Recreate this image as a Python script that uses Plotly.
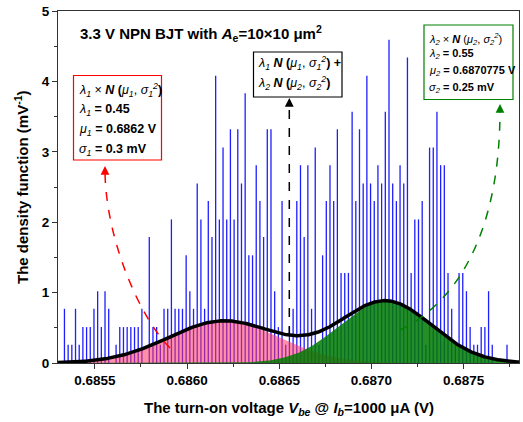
import numpy as np
import plotly.graph_objects as go

# ---------------- data ----------------
# histogram of the turn-on voltage (density, mV^-1), bins of 0.02 mV
bin_start = 0.685335   # V, centre of first bin
bin_step = 0.00002     # V
density = [
    0.77, 0.26, 0.26, 0.77, 0.26, 0.51, 0.51, 0.51, 0.77, 1.02,
    0.51, 1.02, 0.77, 0.00, 0.26, 0.51, 0.51, 0.51, 0.51, 0.51,
    0.51, 0.77, 0.00, 1.79, 0.51, 0.51, 0.26, 0.77, 0.77, 2.04,
    0.77, 0.77, 0.77, 1.53, 1.02, 0.77, 2.55, 2.04, 0.77, 2.30,
    1.79, 4.08, 2.04, 3.06, 2.04, 3.32, 2.04, 3.32, 2.55, 3.83,
    1.53, 1.53, 2.81, 2.30, 1.79, 3.32, 3.32, 1.02, 0.51, 2.30,
    0.26, 0.51, 0.77, 2.30, 2.81, 1.79, 2.81, 0.77, 3.06, 0.26,
    1.53, 2.30, 2.81, 2.30, 3.32, 1.28, 1.28, 1.28, 3.57, 2.30,
    3.32, 2.55, 4.08, 2.55, 2.30, 2.81, 2.55, 3.57, 4.59, 2.55,
    2.30, 2.81, 2.55, 4.34, 1.28, 2.04, 2.04, 2.30, 0.26, 3.06,
    3.06, 3.57, 2.81, 2.81, 1.28, 0.77, 0.26, 1.28, 1.28, 1.02,
    0.51, 0.26, 0.26, 0.51, 0.51, 1.02, 0.26, 0.00, 0.00, 0.00,
    0.26,
]

# fitted two-component Gaussian mixture (values printed on the chart)
lam1, mu1, sig1 = 0.45, 0.6862, 0.3e-3       # V
lam2, mu2, sig2 = 0.55, 0.6870775, 0.25e-3   # V

x_range = [0.6853, 0.6878]
y_range = [0, 5]
x_ticks = [0.6855, 0.6860, 0.6865, 0.6870, 0.6875]
x_tick_text = ["0.6855", "0.6860", "0.6865", "0.6870", "0.6875"]
y_ticks = [0, 1, 2, 3, 4, 5]

# ---------------- derived ----------------
centers = bin_start + bin_step * np.arange(len(density))
bx, by = [], []
for xc, h in zip(centers, density):
    if h > 0:
        bx += [xc, xc, None]
        by += [0, h, None]

xs = np.linspace(x_range[0], x_range[1], 800)
def comp(lam, mu, sig):
    s = sig * 1e3
    z = (xs - mu) * 1e3 / s
    return lam / (s * np.sqrt(2 * np.pi)) * np.exp(-0.5 * z * z)
c1 = comp(lam1, mu1, sig1)
c2 = comp(lam2, mu2, sig2)
mix = c1 + c2

FONT = "Liberation Sans, Arial, sans-serif"

fig = go.Figure()
fig.add_trace(go.Scatter(x=bx, y=by, mode="lines", line=dict(width=1.3, color="rgb(30,30,255)"),
                         hoverinfo="skip", connectgaps=False))
fig.add_trace(go.Scatter(x=xs, y=c1, mode="lines", line=dict(width=0, color="rgba(0,0,0,0)"),
                         fill="tozeroy", fillcolor="rgba(255,50,95,0.55)", hoverinfo="skip"))
fig.add_trace(go.Scatter(x=xs, y=c2, mode="lines", line=dict(width=0, color="rgba(0,0,0,0)"),
                         fill="tozeroy", fillcolor="rgba(0,122,0,0.85)", hoverinfo="skip"))
fig.add_trace(go.Scatter(x=xs, y=mix, mode="lines", line=dict(width=3.5, color="black"),
                         hoverinfo="skip"))

# ---------------- layout helpers (pixel -> paper) ----------------
L, T, W, H = 58, 11, 461, 352
def PX(x):
    return (x - L) / W
def PY(y):
    return (T + H - y) / H

shapes = []
annots = []

def box(x0, y0, x1, y1, color):
    shapes.append(dict(type="rect", xref="paper", yref="paper",
                       x0=PX(x0), x1=PX(x1), y0=PY(y1), y1=PY(y0),
                       line=dict(color=color, width=1.2), fillcolor="white", layer="above"))

def text(x, y, s, size, color="black", anchor="left", angle=0):
    annots.append(dict(xref="paper", yref="paper", x=PX(x), y=PY(y), text=s,
                       showarrow=False, xanchor=anchor, yanchor="middle", textangle=angle,
                       font=dict(family=FONT, size=size, color=color)))

def arrowhead(x, y, color, ay=8, ax=0):
    annots.append(dict(xref="paper", yref="paper", x=PX(x), y=PY(y), text="",
                       showarrow=True, ax=ax, ay=ay, arrowhead=2, arrowsize=1.1,
                       arrowwidth=1.6, arrowcolor=color))

def path(pts, color, dash="dash"):
    (a, b), (c, d), (e, f), (g, h) = pts
    p = "M {},{} C {},{} {},{} {},{}".format(PX(a), PY(b), PX(c), PY(d), PX(e), PY(f), PX(g), PY(h))
    shapes.append(dict(type="path", xref="paper", yref="paper", path=p,
                       line=dict(color=color, width=1.5, dash=dash), layer="above"))

# title inside the plot
text(78, 33, "<b>3.3 V NPN BJT with <i>A</i><sub>e</sub>=10×10 μm<sup>2</sup></b>", 15)

# red box (component 1)
box(73.5, 75.5, 161.5, 160, "red")
text(76.5, 90, "<i>λ<sub>1</sub></i> × <b><i>N</i> (</b><i>μ<sub>1</sub></i>, <i>σ<sub>1</sub><sup>2</sup></i><b>)</b>", 12.5)
text(76.5, 110, "<i>λ<sub>1</sub></i><b> = 0.45</b>", 12.5)
text(76.5, 130, "<i>μ<sub>1</sub></i><b> = 0.6862 V</b>", 12.5)
text(76.5, 150, "<i>σ<sub>1</sub></i><b> = 0.3 mV</b>", 12.5)

# black box (mixture)
box(253.5, 52, 342, 97, "black")
text(256, 63, "<i>λ<sub>1</sub></i> <b><i>N</i> (</b><i>μ<sub>1</sub></i>, <i>σ<sub>1</sub><sup>2</sup></i><b>) +</b>", 12.5)
text(256, 83, "<i>λ<sub>2</sub></i> <b><i>N</i> (</b><i>μ<sub>2</sub></i>, <i>σ<sub>2</sub><sup>2</sup></i><b>)</b>", 12.5)

# green box (component 2)
box(424, 25, 513, 99.5, "green")
text(426.5, 38.5, "<i>λ<sub>2</sub></i> × <b><i>N</i></b> (<i>μ<sub>2</sub></i>, <i>σ<sub>2</sub><sup>2</sup></i>)", 11)
text(426.5, 54, "<i>λ<sub>2</sub></i><b> = 0.55</b>", 11)
text(426.5, 71, "<i>μ<sub>2</sub></i><b> = 0.6870775 V</b>", 11)
text(426.5, 88, "<i>σ<sub>2</sub></i><b> = 0.25 mV</b>", 11)

# dashed arrows
path([(170, 348), (140, 318), (106, 240), (105, 172)], "red")
arrowhead(105, 166, "red", ay=9)
path([(400, 330), (452, 305), (500, 240), (500, 110)], "green")
arrowhead(500, 104, "green", ay=9)
shapes.append(dict(type="line", xref="paper", yref="paper", x0=PX(289.3), x1=PX(289.3),
                   y0=PY(335), y1=PY(104), line=dict(color="black", width=1.5, dash="dash"),
                   layer="above"))
arrowhead(289.3, 98, "black", ay=9)

# axis titles
text(288.5, 408, "<b>The turn-on voltage <i>V<sub>be</sub></i> @ <i>I<sub>b</sub></i>=1000 μA (V)</b>", 15, anchor="center")
text(21, 187, "<b>The density function (mV<sup>-1</sup>)</b>", 15, anchor="center", angle=-90)

axis_common = dict(showgrid=False, zeroline=False, showline=True, linecolor="#333",
                   linewidth=1.3, mirror=True, ticks="outside", ticklen=5, tickwidth=1.2,
                   tickcolor="#333",
                   tickfont=dict(family=FONT, size=13.5, color="black", weight="bold"))

fig.update_layout(
    width=523, height=422,
    margin=dict(l=L, r=523 - L - W, t=T, b=422 - T - H),
    paper_bgcolor="white", plot_bgcolor="white",
    showlegend=False,
    xaxis=dict(range=x_range, tickvals=x_ticks, ticktext=x_tick_text,
               minor=dict(dtick=0.00025, tick0=0.6850, ticks="outside", ticklen=3,
                          tickcolor="#333", tickwidth=1), **axis_common),
    yaxis=dict(range=y_range, tickvals=y_ticks,
               minor=dict(dtick=0.5, tick0=0, ticks="outside", ticklen=3,
                          tickcolor="#333", tickwidth=1), **axis_common),
    shapes=shapes, annotations=annots,
)

fig.write_html("out.html")
